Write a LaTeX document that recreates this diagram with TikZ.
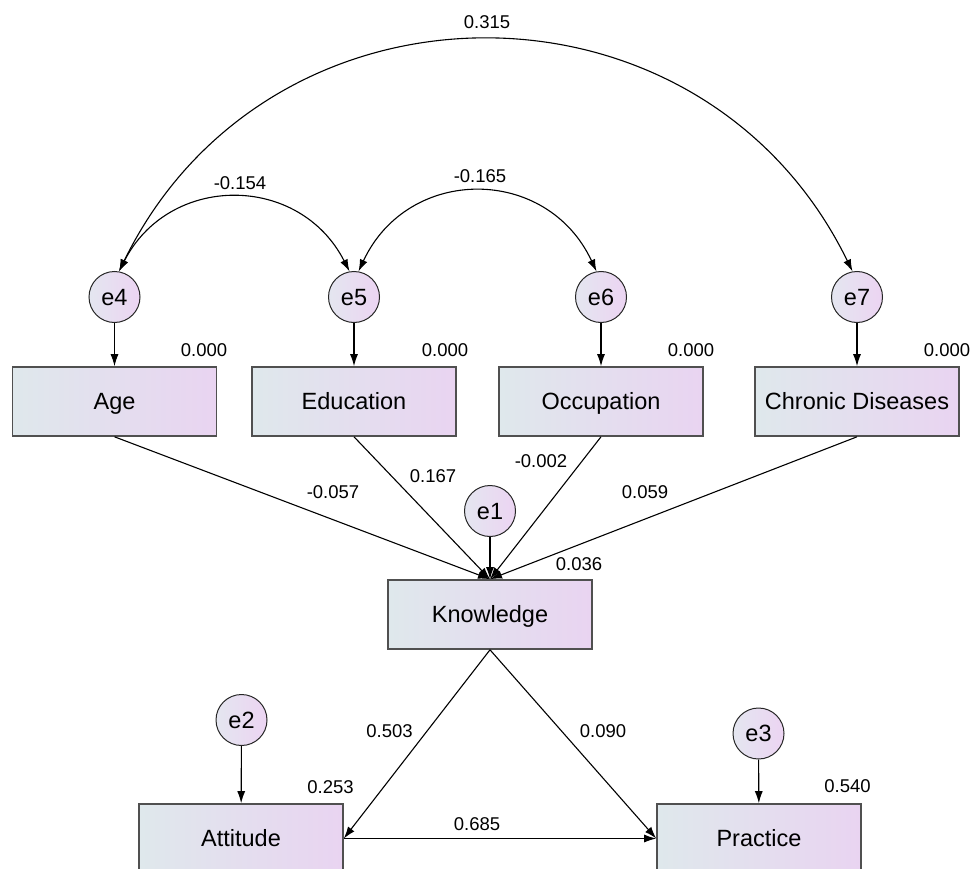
\documentclass[tikz,border=0pt]{standalone}
\usepackage{fontspec}
\setmainfont{Liberation Sans}
\usetikzlibrary{arrows.meta}
\definecolor{fillL}{RGB}{223,232,236}
\definecolor{fillM}{RGB}{228,222,240}
\definecolor{fillR}{RGB}{233,212,241}
\definecolor{circL}{RGB}{228,230,240}
\definecolor{circR}{RGB}{236,212,242}
\definecolor{edgecol}{RGB}{80,80,80}
\begin{document}
\begin{tikzpicture}[x=1pt,y=1pt,
  var/.style={rectangle, draw=edgecol, line width=1.6pt, left color=fillL, middle color=fillM, right color=fillR,
    minimum width=204pt, minimum height=69pt, inner sep=0pt,
    font=\fontsize{23.5}{26}\selectfont, text height=16.5pt, text depth=0pt},
  err/.style={circle, draw=black!85, line width=1pt, left color=circL, right color=circR,
    minimum size=51pt, inner sep=0pt,
    font=\fontsize{23.5}{26}\selectfont, text height=16.5pt, text depth=0pt},
  lab/.style={font=\fontsize{18.5}{20}\selectfont, inner sep=0pt},
  arr/.style={-{Latex[length=12pt,width=8pt]}, line width=1.1pt},
  cov/.style={{Latex[length=12pt,width=8pt]}-{Latex[length=12pt,width=8pt]}, line width=1.1pt}]
\useasboundingbox (0,0) rectangle (971,-869);

% observed variables
\node[var] (age) at (114.5,-401.5) {Age};
\node[var] (edu) at (354,-401.5) {Education};
\node[var] (occ) at (601,-401.5) {Occupation};
\node[var] (chr) at (857,-401.5) {Chronic Diseases};
\node[var] (know) at (490,-614.5) {Knowledge};
\node[var] (att) at (241,-838.5) {Attitude};
\node[var] (prac) at (759,-838.5) {Practice};

% error terms
\node[err] (e4) at (114.5,-297) {e4};
\node[err] (e5) at (354,-297) {e5};
\node[err] (e6) at (601,-297) {e6};
\node[err] (e7) at (857,-297) {e7};
\node[err] (e1) at (490,-511) {e1};
\node[err] (e2) at (241.5,-720) {e2};
\node[err] (e3) at (758.5,-733.5) {e3};

% error arrows
\draw[arr] (e4) -- (age);
\draw[arr] (e5) -- (edu);
\draw[arr] (e6) -- (occ);
\draw[arr] (e7) -- (chr);
\draw[arr] (e1) -- (know);
\draw[arr] (e2) -- (att);
\draw[arr] (e3) -- (prac);

% covariances
\draw[cov] (e4.80) to[out=63,in=117,looseness=1.226] (e5.100);
\draw[cov] (e5.80) to[out=65,in=115,looseness=1.263] (e6.100);
\draw[cov] (e4.80) to[out=64,in=116,looseness=1.198] (e7.100);

% regressions
\draw[arr] (age.south) -- (know.north);
\draw[arr] (edu.south) -- (know.north);
\draw[arr] (occ.south) -- (know.north);
\draw[arr] (chr.south) -- (know.north);
\draw[arr] (know.south) -- (att.east);
\draw[arr] (know.south) -- (prac.west);
\draw[arr] (att.east) -- (prac.west);

% labels
\node[lab] (l315) at (487,-22) {0.315};
\node[lab] (l154) at (240,-183) {-0.154};
\node[lab] (l165) at (480,-176) {-0.165};
\node[lab] (r4) at (204,-350) {0.000};
\node[lab] (r5) at (445,-350) {0.000};
\node[lab] (r6) at (691,-350) {0.000};
\node[lab] (r7) at (947,-350.5) {0.000};
\node[lab] (l057) at (333,-492) {-0.057};
\node[lab] (l167) at (433,-476.5) {0.167};
\node[lab] (l002) at (541,-461.5) {-0.002};
\node[lab] (l059) at (645,-492) {0.059};
\node[lab] (r1) at (579,-564.5) {0.036};
\node[lab] (l503) at (389.5,-731) {0.503};
\node[lab] (l090) at (603,-731) {0.090};
\node[lab] (r2) at (330.5,-787.5) {0.253};
\node[lab] (r3) at (847.5,-786.5) {0.540};
\node[lab] (l685) at (477,-824) {0.685};
\end{tikzpicture}
\end{document}
